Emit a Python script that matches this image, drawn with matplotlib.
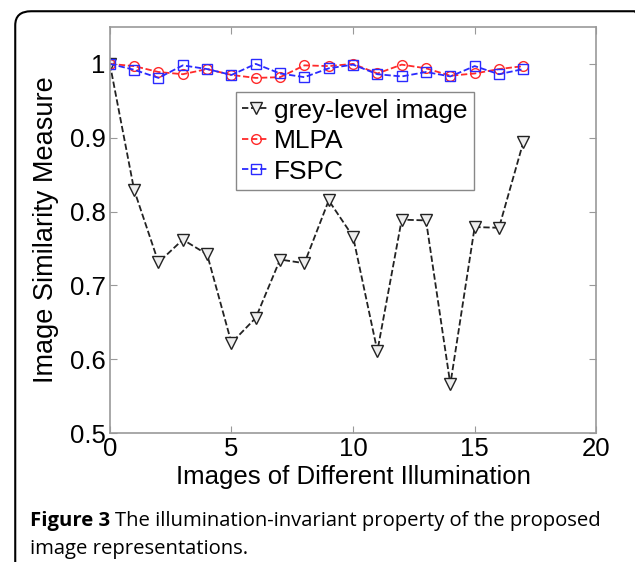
import matplotlib.pyplot as plt
from matplotlib.patches import FancyBboxPatch

# data
x = list(range(18))
grey = [1.0, 0.829, 0.731, 0.762, 0.742, 0.622, 0.656, 0.735, 0.730,
        0.815, 0.766, 0.611, 0.789, 0.788, 0.566, 0.779, 0.778, 0.894]
mlpa = [1.0, 0.997, 0.989, 0.986, 0.993, 0.985, 0.981, 0.982, 0.998,
        0.997, 1.0, 0.987, 0.999, 0.994, 0.984, 0.987, 0.993, 0.997]
fspc = [1.0, 0.992, 0.981, 0.998, 0.993, 0.985, 1.0, 0.987, 0.982,
        0.994, 0.999, 0.986, 0.983, 0.989, 0.983, 0.997, 0.986, 0.993]
labels = ['grey-level image', 'MLPA', 'FSPC']
xticks = [0, 5, 10, 15, 20]
yticks = [0.5, 0.6, 0.7, 0.8, 0.9, 1.0]
ytick_labels = ['0.5', '0.6', '0.7', '0.8', '0.9', '1']

plt.rcParams['font.family'] = ['Liberation Sans', 'DejaVu Sans']

fig = plt.figure(figsize=(6.35, 5.62), dpi=100)

# rounded frame around the figure (right and bottom run off the page)
frame = FancyBboxPatch((0.024, -0.05), 1.0, 1.03, transform=fig.transFigure,
                       boxstyle='round,pad=0,rounding_size=0.025',
                       facecolor='none', edgecolor='black', linewidth=1.5)
fig.patches.append(frame)

ax = fig.add_axes([0.173, 0.2295, 0.766, 0.7225])
dash = (0, (3.5, 1.5))
ax.plot(x, grey, linestyle=dash, color='#222222', lw=1.3, marker='v',
        ms=8, mfc='#eeeeee', mec='#222222', mew=1.0, label=labels[0])
ax.plot(x, mlpa, linestyle=dash, color='#ff2a2a', lw=1.3, marker='o',
        ms=7, mfc='none', mec='#ff2a2a', mew=1.0, label=labels[1])
ax.plot(x, fspc, linestyle=dash, color='#2a2aff', lw=1.3, marker='s',
        ms=7, mfc='none', mec='#2a2aff', mew=1.0, label=labels[2])

ax.set_xlim(0, 20)
ax.set_ylim(0.5, 1.05)
ax.set_xticks(xticks)
ax.set_yticks(yticks)
ax.set_yticklabels(ytick_labels)
ax.tick_params(direction='in', length=5, color='#999999', labelsize=18.5,
               top=True, right=True, pad=3)
for s in ax.spines.values():
    s.set_color('#999999')
    s.set_linewidth(1.2)

ax.set_xlabel('Images of Different Illumination', fontsize=18.5, labelpad=3)
ax.set_ylabel('Image Similarity Measure', fontsize=19.5)
ax.yaxis.set_label_coords(-0.105, 0.5)

leg = ax.legend(loc='upper left', bbox_to_anchor=(0.259, 0.84), fontsize=19,
                handlelength=1.0, handletextpad=0.2, labelspacing=0.25,
                borderpad=0.25, borderaxespad=0, fancybox=False, framealpha=1,
                edgecolor='#888888')
leg.get_frame().set_linewidth(1.0)

cap = ['Open Sans', 'DejaVu Sans']
t1 = fig.text(0.047, 1 - 526 / 562, 'Figure 3', fontsize=14.6, fontweight='bold',
              family=cap, va='baseline')
fig.canvas.draw()
bb = t1.get_window_extent().transformed(fig.transFigure.inverted())
fig.text(bb.x1 + 0.008, 1 - 526 / 562,
         'The illumination-invariant property of the proposed',
         fontsize=14.6, family=cap, va='baseline')
fig.text(0.047, 1 - 554 / 562, 'image representations.', fontsize=14.6,
         family=cap, va='baseline')

fig.savefig('out.png', dpi=100)
